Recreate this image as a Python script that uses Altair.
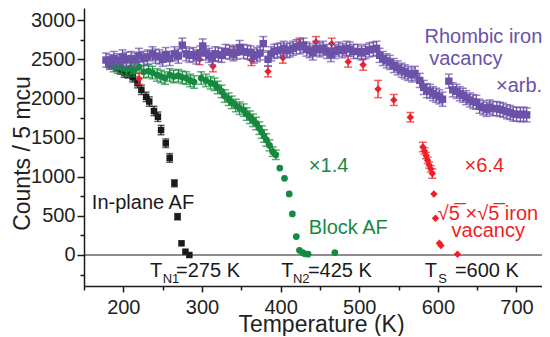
import altair as alt
import pandas as pd

# ---------------- data ----------------
# In-plane AF (black squares)
black_T = [181, 186, 191, 196, 201, 206, 212, 218, 223, 229, 233, 239, 244, 248, 254, 259, 265, 269, 274, 279, 284]
black_V = [2460, 2440, 2410, 2370, 2330, 2320, 2270, 2195, 2110, 2020, 1960, 1840, 1766, 1596, 1428, 1240, 916, 489, 149, 42, 0]
black_E = [60, 60, 60, 60, 60, 60, 60, 60, 60, 60, 60, 60, 60, 60, 55, 55, 45, 40, 0, 0, 0]

# Block AF (green circles)
green_T = [183, 188, 193, 198, 204, 209, 214, 220, 226, 232, 237, 243, 248, 253, 259, 264, 270, 275, 280, 285, 290,
           299, 305, 311, 316, 320, 325, 329, 334, 338, 343, 348, 353, 357, 361, 365, 369, 373, 376, 379, 382,
           386, 390, 394, 399, 405, 411, 415, 420, 424, 428, 431, 435, 469]
green_V = [2450, 2420, 2400, 2390, 2370, 2390, 2360, 2400, 2340, 2350, 2330, 2300, 2280, 2260, 2300, 2280, 2290, 2270, 2260, 2230, 2210,
           2260, 2230, 2200, 2180, 2140, 2090, 2030, 1990, 1950, 1910, 1875, 1850, 1800, 1760, 1720, 1680, 1620, 1570, 1520, 1470,
           1400, 1320, 1280, 1110, 980, 780, 525, 235, 60, 30, 15, 10, 30]
green_E = [80] * 41 + [70, 60, 60, 0, 0, 0, 0, 0, 0, 0, 0, 0, 0]

# sqrt5 x sqrt5 iron vacancy (red diamonds)
red_T = [220, 297, 314, 341, 363, 384, 403, 424, 445, 465, 486, 505, 524, 544, 565,
         581, 583, 585, 587, 589, 591, 593, 595, 597, 602, 604, 625]
red_V = [2250, 2500, 2410, 2590, 2490, 2345, 2520, 2700, 2720, 2700, 2470, 2430, 2120, 1980, 1760,
         1380, 1330, 1270, 1210, 1150, 1100, 1040, 780, 470, 150, 120, 10]
red_E = [70, 70, 70, 70, 70, 70, 70, 70, 70, 70, 70, 70, 110, 70, 60,
         60, 40, 40, 40, 40, 40, 60, 0, 0, 0, 0, 0]

# Rhombic iron vacancy (purple squares)
purple_T = [178, 183, 188, 193, 199, 204, 210, 215, 220, 226, 231, 237, 241, 246, 250, 254, 259, 265, 270, 275,
            280, 284, 289, 293, 298, 301, 305, 309, 313, 317, 321, 325, 330, 335, 340, 344, 348, 353, 358, 362,
            366, 370, 374, 378, 384, 388, 392, 396, 400, 404, 408, 412, 416, 420, 425, 429, 433, 437, 441, 445,
            450, 454, 459, 464, 469, 474, 479, 484, 488, 493, 498, 503, 508, 513, 518, 522, 526, 530, 535, 539,
            544, 549, 554, 558, 562, 567, 571, 577, 582, 586, 590, 594, 598, 602, 606, 614, 619, 624, 628, 632,
            636, 641, 645, 649, 653, 658, 662, 666, 670, 675, 679, 683, 688, 692, 696, 700, 705, 709, 713]
purple_V = [2490, 2470, 2510, 2480, 2530, 2500, 2510, 2490, 2550, 2510, 2530, 2570, 2540, 2530, 2500, 2560, 2510, 2570, 2540, 2680,
            2570, 2550, 2560, 2530, 2580, 2670, 2580, 2550, 2520, 2570, 2560, 2550, 2600, 2590, 2570, 2590, 2650, 2600, 2590, 2580,
            2540, 2560, 2580, 2700, 2500, 2570, 2600, 2610, 2620, 2640, 2610, 2620, 2640, 2660, 2660, 2680, 2630, 2610, 2580, 2640,
            2620, 2640, 2600, 2560, 2600, 2630, 2610, 2640, 2630, 2600, 2600, 2580, 2600, 2620, 2630, 2640, 2550, 2510, 2480, 2460,
            2420, 2390, 2360, 2340, 2320, 2300, 2320, 2230, 2140, 2100, 2090, 2060, 2040, 2020, 1990, 2220, 2110, 2090, 2060, 2040,
            2010, 1980, 1960, 1950, 1900, 1880, 1860, 1890, 1870, 1870, 1860, 1850, 1830, 1820, 1800, 1800, 1790, 1800, 1790]
purple_E = [90] * len(purple_T)

# text annotations: x (K), y (counts), text, colour, font size
ann_x = [160, 436, 436, 634, 600, 617.5, 583, 589, 674,
         234, 250.1, 267.1, 400.9, 415.7, 434.8, 583.4, 600.4, 621.7]
ann_y = [584, 1064, 268, 1056, 447, 230, 2714, 2427, 2086,
         -277, -358, -277, -277, -358, -277, -277, -358, -277]
ann_text = ["In-plane AF", "\u00d71.4", "Block AF", "\u00d76.4", "\u221a5\u0305 \u00d7\u221a5\u0305 iron", "vacancy",
            "Rhombic iron", "vacancy", "\u00d7arb.",
            "T", "N1", "=275 K", "T", "N2", "=425 K", "T", "S", "=600 K"]
BLACK = "#1a1a1a"
GREEN = "#17893f"
RED = "#ee1f26"
PURPLE = "#6b52a8"
ann_color = [BLACK, GREEN, GREEN, RED, RED, RED, PURPLE, PURPLE, PURPLE,
             BLACK, BLACK, BLACK, BLACK, BLACK, BLACK, BLACK, BLACK, BLACK]
ann_size = [20, 20, 20, 20, 20, 20, 20, 20, 20,
            20, 13, 20, 20, 13, 20, 20, 13, 20]

FONT = "Liberation Sans"

# ---------------- scales & axes ----------------
xs = alt.Scale(domain=[150, 732.5], nice=False, zero=False)
ys = alt.Scale(domain=[-396, 3155], nice=False, zero=False)

xaxis = alt.Axis(
    values=list(range(150, 701, 50)),
    labelExpr="datum.value % 100 === 0 ? datum.label : ''",
    format="d",
    title="Temperature (K)",
    titleX=237, titleY=45, titleAlign="center", titleBaseline="alphabetic",
    tickSize={"condition": {"test": "datum.value % 100 === 0", "value": 6}, "value": 4},
    labelPadding=5,
    grid=False,
)
yaxis = alt.Axis(
    values=list(range(-250, 3001, 250)),
    labelExpr="datum.value % 500 === 0 ? datum.label : ''",
    format="d",
    title="Counts / 5 mcu",
    titleX=-62, titleY=145, titleAlign="center", titleBaseline="middle", titleAngle=-90,
    tickSize={"condition": {"test": "datum.value % 500 === 0", "value": 7}, "value": 4},
    labelPadding=2,
    grid=False,
)


def X(f):
    return alt.X(f, type="quantitative", scale=xs, axis=xaxis)


def Y(f):
    return alt.Y(f, type="quantitative", scale=ys, axis=yaxis)


def frame(T, V, E):
    return pd.DataFrame({
        "T": T, "V": V,
        "lo": [v - e for v, e in zip(V, E)],
        "hi": [v + e for v, e in zip(V, E)],
    })


def series(T, V, E, color, shape, size, cap):
    df = frame(T, V, E)
    base = alt.Chart(df)
    eb = base.transform_filter("datum.hi > datum.lo")
    bars = eb.mark_rule(color=color, strokeWidth=1.3).encode(x=X("T"), y=Y("lo"), y2="hi")
    lo = eb.mark_tick(color=color, orient="horizontal", size=cap, thickness=1.5).encode(x=X("T"), y=Y("lo"))
    hi = eb.mark_tick(color=color, orient="horizontal", size=cap, thickness=1.5).encode(x=X("T"), y=Y("hi"))
    pts = base.mark_point(shape=shape, filled=True, size=size, color=color, opacity=1).encode(x=X("T"), y=Y("V"))
    return [bars, lo, hi, pts]


zero = alt.Chart(pd.DataFrame({"z": [0]})).mark_rule(color=BLACK, strokeWidth=1.2).encode(y=Y("z"))

layers = [zero]
layers += series(black_T, black_V, black_E, BLACK, "square", 42, 7)
layers += series(green_T, green_V, green_E, GREEN, "circle", 45, 8)
layers += series(red_T, red_V, red_E, RED, "diamond", 55, 8)
layers += series(purple_T, purple_V, purple_E, PURPLE, "square", 55, 8)

ann = pd.DataFrame({"x": ann_x, "y": ann_y, "t": ann_text, "c": ann_color, "s": ann_size})
texts = alt.Chart(ann).mark_text(align="left", baseline="alphabetic", font=FONT).encode(
    x=X("x"), y=Y("y"), text="t:N",
    color=alt.Color("c:N", scale=None),
    size=alt.Size("s:Q", scale=None),
)
layers.append(texts)

chart = alt.layer(*layers).properties(
    width=458, height=278,
    padding={"left": 76, "top": 0, "right": 0, "bottom": 50},
    autosize=alt.AutoSizeParams(type="none"),
).configure_view(stroke=None).configure_axis(
    domainColor=BLACK, domainWidth=1.5,
    tickColor=BLACK, tickWidth=1.5,
    labelFont=FONT, labelFontSize=20, labelColor="#231f20",
    titleFont=FONT, titleFontSize=23, titleFontWeight="normal", titleColor="#231f20",
)

chart.save("out.html", embed_options={"renderer": "svg", "actions": False})
